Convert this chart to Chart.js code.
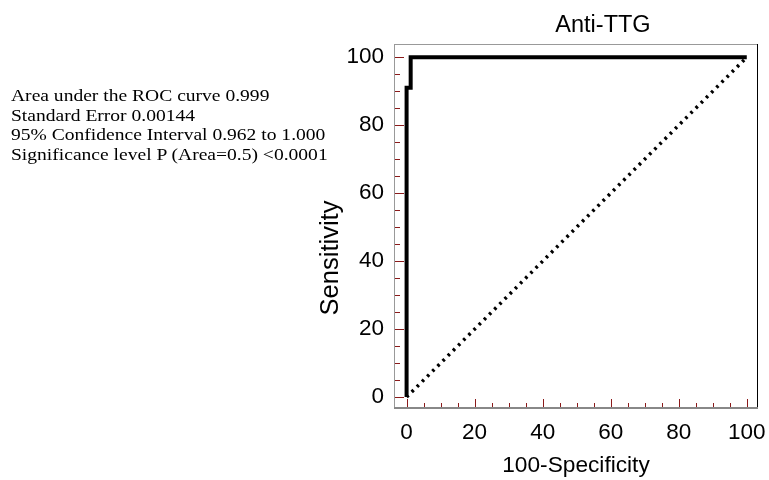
<!DOCTYPE html>
<html>
<head>
<meta charset="utf-8">
<script src="https://cdn.jsdelivr.net/npm/chart.js@4.4.0/dist/chart.umd.min.js"></script>
<style>
  html, body { margin: 0; padding: 0; background: #fff; }
  #wrap { position: relative; width: 769px; height: 480px; overflow: hidden; }
  #c { position: absolute; left: 0; top: 0; }
  #stats { position: absolute; left: 11px; top: 86px; font-family: "Liberation Serif", "Times New Roman", serif; font-size: 17px; line-height: 19.7px; color: #000; white-space: nowrap; transform: scaleX(1.15); transform-origin: 0 0; }
  #ttl { position: absolute; left: 603px; top: 12.5px; transform: translateX(-50%); font-family: "Liberation Sans", Arial, sans-serif; font-size: 23.5px; line-height: 23.5px; color: #000; white-space: nowrap; }
</style>
</head>
<body>
<div id="wrap">
  <canvas id="c" width="769" height="480"></canvas>
  <div id="ttl"></div>
  <div id="stats"></div>
</div>
<script>
// ---- data ----
const chartTitle = "Anti-TTG";
const xTitle = "100-Specificity";
const yTitle = "Sensitivity";
const statsLines = [
  "Area under the ROC curve 0.999",
  "Standard Error 0.00144",
  "95% Confidence Interval 0.962 to 1.000",
  "Significance level P (Area=0.5) <0.0001"
];
const rocX = [0, 0, 1.2, 1.2, 100];
const rocY = [0, 91, 91, 100, 100];
const refX = [0, 100];
const refY = [0, 100];
const tickValues = [0, 5, 10, 15, 20, 25, 30, 35, 40, 45, 50, 55, 60, 65, 70, 75, 80, 85, 90, 95, 100];
const labelValues = [0, 20, 40, 60, 80, 100];

document.getElementById('ttl').textContent = chartTitle;
document.getElementById('stats').innerHTML = statsLines.map(s => s.replace(/&/g,'&amp;').replace(/</g,'&lt;')).join('<br>');

const toPts = (xs, ys) => xs.map((x, i) => ({x: x, y: ys[i]}));

const setTicks = (scale) => { scale.ticks = tickValues.map(v => ({value: v})); };
const labelCb = (v) => labelValues.includes(v) ? String(v) : '';

const frameAndTicks = {
  id: 'frameAndTicks',
  beforeDatasetsDraw(chart) {
    const {ctx, chartArea: a, scales} = chart;
    ctx.save();
    ctx.strokeStyle = '#8b1a1a';
    ctx.lineWidth = 1;
    scales.x.ticks.forEach(t => {
      const px = Math.round(scales.x.getPixelForValue(t.value)) + 0.5;
      const len = labelValues.includes(t.value) ? 10 : 6;
      ctx.beginPath(); ctx.moveTo(px, a.bottom); ctx.lineTo(px, a.bottom - len); ctx.stroke();
    });
    scales.y.ticks.forEach(t => {
      const py = Math.round(scales.y.getPixelForValue(t.value)) + 0.5;
      const len = labelValues.includes(t.value) ? 10 : 6;
      ctx.beginPath(); ctx.moveTo(a.left, py); ctx.lineTo(a.left + len, py); ctx.stroke();
    });
    ctx.restore();
  },
  afterDatasetsDraw(chart) {
    const {ctx, chartArea: a} = chart;
    ctx.save();
    ctx.lineWidth = 1;
    ctx.strokeStyle = '#999';
    ctx.beginPath(); ctx.moveTo(a.left, a.top + 0.5); ctx.lineTo(a.right, a.top + 0.5); ctx.stroke();
    ctx.beginPath(); ctx.moveTo(a.left + 0.5, a.top); ctx.lineTo(a.left + 0.5, a.bottom); ctx.stroke();
    ctx.strokeStyle = '#000';
    ctx.beginPath(); ctx.moveTo(a.right - 0.5, a.top); ctx.lineTo(a.right - 0.5, a.bottom); ctx.stroke();
    ctx.strokeStyle = '#888';
    ctx.lineWidth = 2;
    ctx.beginPath(); ctx.moveTo(a.left, a.bottom - 1); ctx.lineTo(a.right, a.bottom - 1); ctx.stroke();
    // y-axis title
    ctx.fillStyle = '#000';
    ctx.font = '25.5px "Liberation Sans", Arial, sans-serif';
    ctx.textAlign = 'center';
    ctx.textBaseline = 'middle';
    ctx.translate(a.left - 63.5, (a.top + a.bottom) / 2 + 31.5);
    ctx.rotate(-Math.PI / 2);
    ctx.fillText(yTitle, 0, 0);
    ctx.restore();
  }
};

const tickFont = {family: '"Liberation Sans", Arial, sans-serif', size: 22.5};

new Chart(document.getElementById('c'), {
  type: 'scatter',
  data: {
    datasets: [
      {
        label: 'Reference',
        data: toPts(refX, refY),
        showLine: true,
        borderColor: '#000',
        borderWidth: 3.5,
        borderDash: [2.6, 4.7],
        borderCapStyle: 'butt',
        pointRadius: 0,
        fill: false
      },
      {
        label: 'ROC',
        data: toPts(rocX, rocY),
        showLine: true,
        borderColor: '#000',
        borderWidth: 4,
        borderJoinStyle: 'miter',
        pointRadius: 0,
        fill: false
      }
    ]
  },
  options: {
    responsive: false,
    animation: false,
    devicePixelRatio: 1,
    layout: { padding: { left: 312, right: 11, top: 44, bottom: 0 } },
    plugins: { legend: { display: false }, tooltip: { enabled: false }, title: { display: false } },
    scales: {
      x: {
        type: 'linear',
        min: -3.7,
        max: 103.3,
        afterBuildTicks: setTicks,
        afterFit: (s) => { s.height = 71; s.paddingLeft = 0; s.paddingRight = 0; },
        grid: { display: false, drawTicks: false },
        border: { display: false },
        ticks: { callback: labelCb, font: tickFont, color: '#000', padding: 10.5, maxRotation: 0, autoSkip: false },
        title: { display: true, text: xTitle, font: {family: '"Liberation Sans", Arial, sans-serif', size: 22.7}, color: '#000', padding: { top: 0, bottom: 1 } }
      },
      y: {
        type: 'linear',
        min: -3.5,
        max: 103.9,
        afterBuildTicks: setTicks,
        afterFit: (s) => { s.width = 82; s.paddingTop = 0; s.paddingBottom = 0; },
        grid: { display: false, drawTicks: false },
        border: { display: false },
        ticks: { callback: labelCb, font: tickFont, color: '#000', padding: 10, autoSkip: false },
        title: { display: false, text: yTitle }
      }
    }
  },
  plugins: [frameAndTicks]
});
</script>
</body>
</html>
